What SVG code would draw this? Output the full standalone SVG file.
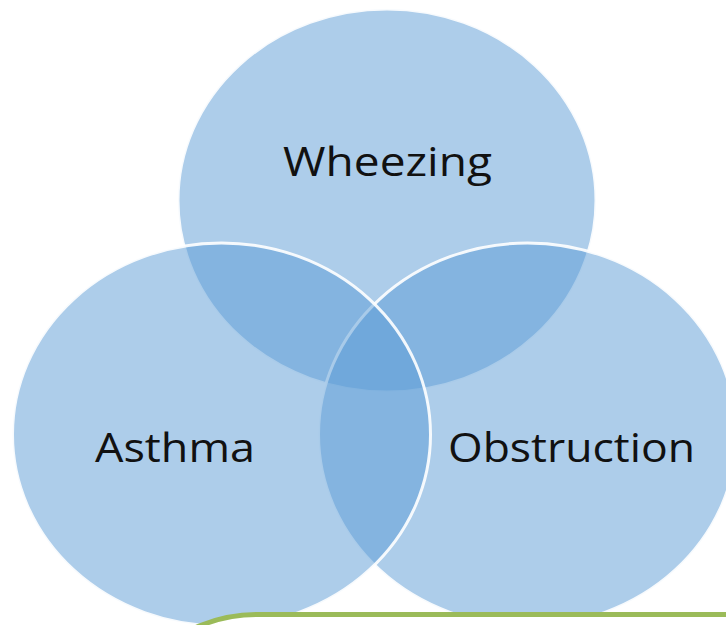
<svg xmlns="http://www.w3.org/2000/svg" width="726" height="625" viewBox="0 0 726 625">
  <style>
    .set { fill: #5B9BD5; fill-opacity: 0.5; stroke: #FFFFFF; stroke-width: 3; stroke-opacity: 0.9; }
    .lbl { font-family: "Open Sans", "Liberation Sans", sans-serif; font-size: 41px; fill: #111111; text-anchor: middle; }
  </style>
  <rect x="0" y="0" width="726" height="625" fill="#FFFFFF"/>
  <g id="node-wheezing">
    <ellipse class="set" cx="387" cy="200.5" rx="209" ry="191.5"/>
    <text class="lbl" x="387.5" y="176" textLength="209" lengthAdjust="spacingAndGlyphs">Wheezing</text>
  </g>
  <g id="node-obstruction">
    <ellipse class="set" cx="527.5" cy="434.5" rx="209" ry="191.5"/>
    <text class="lbl" x="571.5" y="462" textLength="247" lengthAdjust="spacingAndGlyphs">Obstruction</text>
  </g>
  <g id="node-asthma">
    <ellipse class="set" cx="221.5" cy="434.5" rx="209" ry="191.5"/>
    <text class="lbl" x="175" y="462" textLength="160" lengthAdjust="spacingAndGlyphs">Asthma</text>
  </g>
  <g id="callout">
    <rect x="107" y="614.5" width="800" height="300" rx="150" ry="150" fill="#FFFFFF" stroke="#9BBB59" stroke-width="5"/>
  </g>
</svg>
